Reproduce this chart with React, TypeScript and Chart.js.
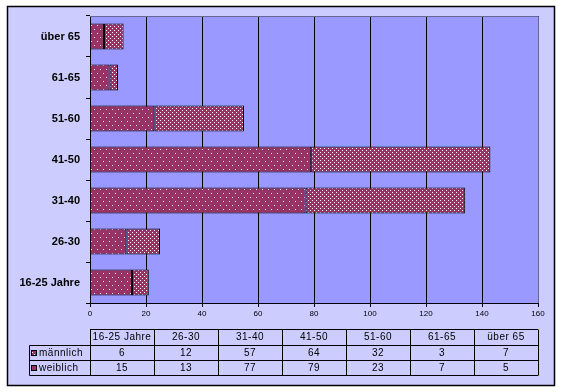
import React, { useEffect, useRef } from "react";
import { Chart, registerables } from "chart.js";

Chart.register(...registerables);

const categories = ["16-25 Jahre", "26-30", "31-40", "41-50", "51-60", "61-65", "über 65"];
const maennlich = [6, 12, 57, 64, 32, 3, 7];
const weiblich = [15, 13, 77, 79, 23, 7, 5];
const xTicks = [0, 20, 40, 60, 80, 100, 120, 140, 160];

const BAR = "#993366";

function makePattern(kind: "w" | "m"): CanvasPattern | string {
  const c = document.createElement("canvas");
  const w = kind === "w" ? 6 : 4;
  const h = kind === "w" ? 8 : 4;
  c.width = w;
  c.height = h;
  const ctx = c.getContext("2d");
  if (!ctx) return BAR;
  ctx.fillStyle = BAR;
  ctx.fillRect(0, 0, w, h);
  ctx.fillStyle = "#ffffff";
  if (kind === "w") {
    ctx.fillRect(1, 1, 1, 1);
    ctx.fillRect(4, 5, 1, 1);
  } else {
    ctx.fillRect(0, 0, 1, 1);
    ctx.fillRect(2, 2, 1, 1);
  }
  return ctx.createPattern(c, "repeat") || BAR;
}

export default function App() {
  const ref = useRef<HTMLCanvasElement>(null);

  useEffect(() => {
    const canvas = ref.current;
    if (!canvas) return;
    const patW = makePattern("w");
    const patM = makePattern("m");

    const framePlugin = {
      id: "frame",
      beforeDraw(chart: any) {
        const ctx = chart.ctx;
        ctx.save();
        ctx.fillStyle = "#ffffff";
        ctx.fillRect(0, 0, chart.width, chart.height);
        ctx.fillStyle = "#CCCCFF";
        ctx.fillRect(7, 6, 548, 380);
        ctx.strokeStyle = "#000000";
        ctx.lineWidth = 1.5;
        ctx.strokeRect(7.5, 6.5, 547, 379);
        const a = chart.chartArea;
        ctx.fillStyle = "#9999FF";
        ctx.fillRect(a.left, a.top, a.right - a.left, a.bottom - a.top);
        ctx.restore();
      },
      afterDraw(chart: any) {
        const ctx = chart.ctx;
        const a = chart.chartArea;
        ctx.save();
        ctx.strokeStyle = "#666699";
        ctx.lineWidth = 1;
        ctx.beginPath();
        ctx.moveTo(a.left, a.top + 0.5);
        ctx.lineTo(a.right + 0.5, a.top + 0.5);
        ctx.lineTo(a.right + 0.5, a.bottom);
        ctx.stroke();

        // data table
        const n = categories.length;
        const left = a.left;
        const right = a.right;
        const colW = (right - left) / n;
        const y0 = 329.5;
        const rh = 15.3;
        const labelLeft = 29.5;
        ctx.strokeStyle = "#000000";
        ctx.lineWidth = 1;
        ctx.beginPath();
        ctx.moveTo(left, y0);
        ctx.lineTo(right, y0);
        for (let r = 1; r <= 3; r++) {
          const yy = Math.round(y0 + rh * r) + 0.5;
          ctx.moveTo(labelLeft, yy);
          ctx.lineTo(right, yy);
        }
        const yb = Math.round(y0 + rh * 3) + 0.5;
        ctx.moveTo(labelLeft, Math.round(y0 + rh) + 0.5);
        ctx.lineTo(labelLeft, yb);
        for (let i = 0; i <= n; i++) {
          const xx = Math.round(left + colW * i) + 0.5;
          ctx.moveTo(xx, y0);
          ctx.lineTo(xx, yb);
        }
        ctx.stroke();

        ctx.fillStyle = "#000000";
        ctx.font = "10px 'Liberation Sans', Arial, sans-serif";
        try {
          (ctx as any).letterSpacing = "0.5px";
        } catch (e) {}
        ctx.textAlign = "center";
        ctx.textBaseline = "middle";
        const rowsText = [categories, maennlich.map(String), weiblich.map(String)];
        rowsText.forEach((row, r) => {
          const yc = y0 + rh * r + rh / 2 + 0.5;
          row.forEach((t, i) => {
            ctx.fillText(t, left + colW * (i + 0.5), yc);
          });
        });
        const names = ["männlich", "weiblich"];
        const pats = [patM, patW];
        names.forEach((nm, k) => {
          const yc = y0 + rh * (k + 1) + rh / 2 + 0.5;
          ctx.fillStyle = pats[k] as any;
          ctx.fillRect(31, Math.round(yc - 3), 6, 6);
          ctx.strokeStyle = "#000";
          ctx.strokeRect(31.5, Math.round(yc - 3) + 0.5, 5, 5);
          ctx.fillStyle = "#000";
          ctx.textAlign = "left";
          ctx.fillText(nm, 39, yc);
        });
        ctx.restore();
      },
    };

    const chart = new Chart(canvas, {
      type: "bar",
      data: {
        labels: categories,
        datasets: [
          {
            label: "weiblich",
            data: weiblich,
            backgroundColor: patW as any,
            borderColor: "#000000",
            borderWidth: 1,
            borderSkipped: "start",
            categoryPercentage: 1,
            barPercentage: 0.64,
          },
          {
            label: "männlich",
            data: maennlich,
            backgroundColor: patM as any,
            borderColor: "#000000",
            borderWidth: 1,
            borderSkipped: false,
            categoryPercentage: 1,
            barPercentage: 0.64,
          },
        ],
      },
      options: {
        indexAxis: "y",
        animation: false,
        responsive: false,
        maintainAspectRatio: false,
        layout: { padding: { left: 0, top: 16, right: 24, bottom: 69 } },
        plugins: { legend: { display: false }, tooltip: { enabled: false } },
        scales: {
          x: {
            stacked: true,
            min: 0,
            max: 160,
            afterBuildTicks: (s: any) => {
              s.ticks = xTicks.map((v) => ({ value: v }));
            },
            afterFit: (s: any) => {
              s.height = 20;
            },
            grid: {
              color: "#000000",
              lineWidth: 1,
              tickLength: 4,
              drawOnChartArea: true,
            },
            border: { color: "#000000", width: 1 },
            ticks: {
              color: "#000000",
              padding: 2,
              maxRotation: 0,
              font: { size: 8, family: "'Liberation Sans', Arial, sans-serif" },
            },
          },
          y: {
            stacked: true,
            reverse: true,
            afterFit: (s: any) => {
              s.width = 90;
            },
            grid: {
              display: true,
              drawOnChartArea: false,
              color: "#000000",
              tickLength: 4,
              offset: true,
            },
            border: { color: "#000000", width: 1 },
            ticks: {
              color: "#000000",
              padding: 6,
              font: { size: 11, weight: "bold", family: "'Liberation Sans', Arial, sans-serif" },
            },
          },
        },
      },
      plugins: [framePlugin],
    });
    return () => chart.destroy();
  }, []);

  return (
    <div style={{ position: "fixed", left: 0, top: 0, width: 562, height: 392 }}>
      <canvas ref={ref} width={562} height={392} style={{ display: "block" }} />
    </div>
  );
}
